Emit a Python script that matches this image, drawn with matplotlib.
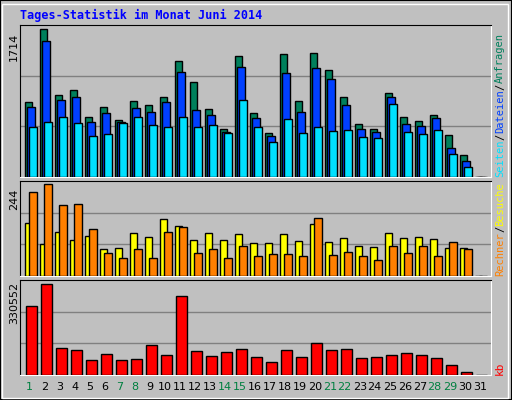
import matplotlib
matplotlib.use("Agg")
import matplotlib.pyplot as plt
from matplotlib.patches import Rectangle
import numpy as np

days = list(range(1, 32))
hits = [865,1714,946,1004,690,807,655,876,830,923,1342,1097,783,551,1400,737,504,1423,876,1435,1237,923,609,551,970,690,644,714,481,260,0]
files = [807,1574,888,923,632,737,632,795,748,865,1214,772,714,516,1272,679,469,1202,748,1260,1132,830,551,516,923,609,586,679,341,190,0]
pages = [574,632,690,620,469,493,620,690,597,574,690,574,597,504,888,574,411,667,504,574,527,539,458,446,842,516,493,539,271,120,0]
visits = [141,85,117,95,106,72,74,114,103,151,133,95,114,95,111,88,88,111,93,138,90,101,80,77,114,101,103,98,74,74,0]
sites = [225,244,188,191,125,61,48,72,48,117,130,61,72,48,80,53,58,58,53,154,56,64,53,42,80,61,80,53,90,72,0]
kbytes = [250650,330552,98080,90810,54490,76280,54490,58120,108970,72650,286960,87180,69020,83550,94440,65380,47220,90810,65380,116240,90810,94440,61750,65380,72650,79910,72650,61750,36320,10900,0]
weekend = [1,7,8,14,15,21,22,28,29]

BG = "#C0C0C0"
W, H = 512, 400
fig = plt.figure(figsize=(5.12, 4.0), dpi=100, facecolor=BG)
fig.patches.append(Rectangle((0, 0), 1, 1, transform=fig.transFigure, fill=False, ec="black", lw=1.5))
fig.patches.append(Rectangle((2/W, 2/H), 1-6/W, 1-6/H, transform=fig.transFigure, fill=False, ec="white", lw=1))

def ax_at(x0, y0, x1, y1):
    ax = fig.add_axes([x0/W, 1-y1/H, (x1-x0)/W, (y1-y0)/H])
    ax.set_facecolor(BG)
    ax.set_xlim(0, 31.4)
    ax.set_xticks([]); ax.set_yticks([])
    for s in ["left", "top"]:
        ax.spines[s].set_color("black")
    for s in ["right", "bottom"]:
        ax.spines[s].set_color("white")
    return ax

x = np.array(days) - 1 + 1/3
kw = dict(align="edge", edgecolor="black", linewidth=1, zorder=3)

a1 = ax_at(20, 25, 491, 177)
a1.set_ylim(0, 1760)
for f in (1/3, 2/3):
    a1.axhline(1760*f, color="#808080", lw=1, zorder=1)
a1.bar(x, hits, 0.49, color="#00805C", **kw)
a1.bar(x+0.11, files, 0.55, color="#0040FF", **kw)
a1.bar(x+0.27, pages, 0.51, color="#00E0FF", **kw)

a2 = ax_at(20, 181, 491, 276)
a2.set_ylim(0, 253)
for f in (1/3, 2/3):
    a2.axhline(253*f, color="#808080", lw=1, zorder=1)
a2.bar(x, visits, 0.49, color="#FFFF00", **kw)
a2.bar(x+0.27, sites, 0.51, color="#FF8000", **kw)

a3 = ax_at(20, 280, 491, 375)
a3.set_ylim(0, 346200)
for f in (1/3, 2/3):
    a3.axhline(346200*f, color="#808080", lw=1, zorder=1)
a3.bar(x+0.07, kbytes, 0.71, color="#FF0000", **kw)

for d in days:
    a3.text(d-0.35, -0.13, str(d), transform=a3.get_xaxis_transform(), ha="center", va="center",
            fontsize=8, color="#008040" if d in weekend else "black")

fig.text(20/W, 1-15/H, "Tages-Statistik im Monat Juni 2014", color="#0000FF", fontsize=8.5,
         family="DejaVu Sans Mono", weight="bold", va="center")
for lab, yc in (("1714", 47), ("244", 199), ("330552", 303)):
    fig.text(14/W, 1-yc/H, lab, rotation=90, ha="center", va="center", fontsize=8)

renderer = fig.canvas.get_renderer()

def vlabel(parts, y_bottom, fs=7.5):
    y = y_bottom
    for t, c in parts:
        tx = fig.text(500/W, 1-y/H, t, rotation=90, ha="center", va="bottom", fontsize=fs,
                      family="DejaVu Sans Mono", color=c)
        bb = tx.get_window_extent(renderer)
        y -= bb.height

vlabel([("Seiten", "#00E0FF"), ("/", "black"), ("Dateien", "#0040FF"), ("/", "black"), ("Anfragen", "#00805C")], 177)
vlabel([("Rechner", "#FF8000"), ("/", "black"), ("Besuche", "#FFFF00")], 276)
fig.text(500/W, 1-375/H, "kb", rotation=90, ha="center", va="bottom", fontsize=8,
         family="DejaVu Sans Mono", color="#FF0000")

fig.savefig("out.png", dpi=100, facecolor=BG)
